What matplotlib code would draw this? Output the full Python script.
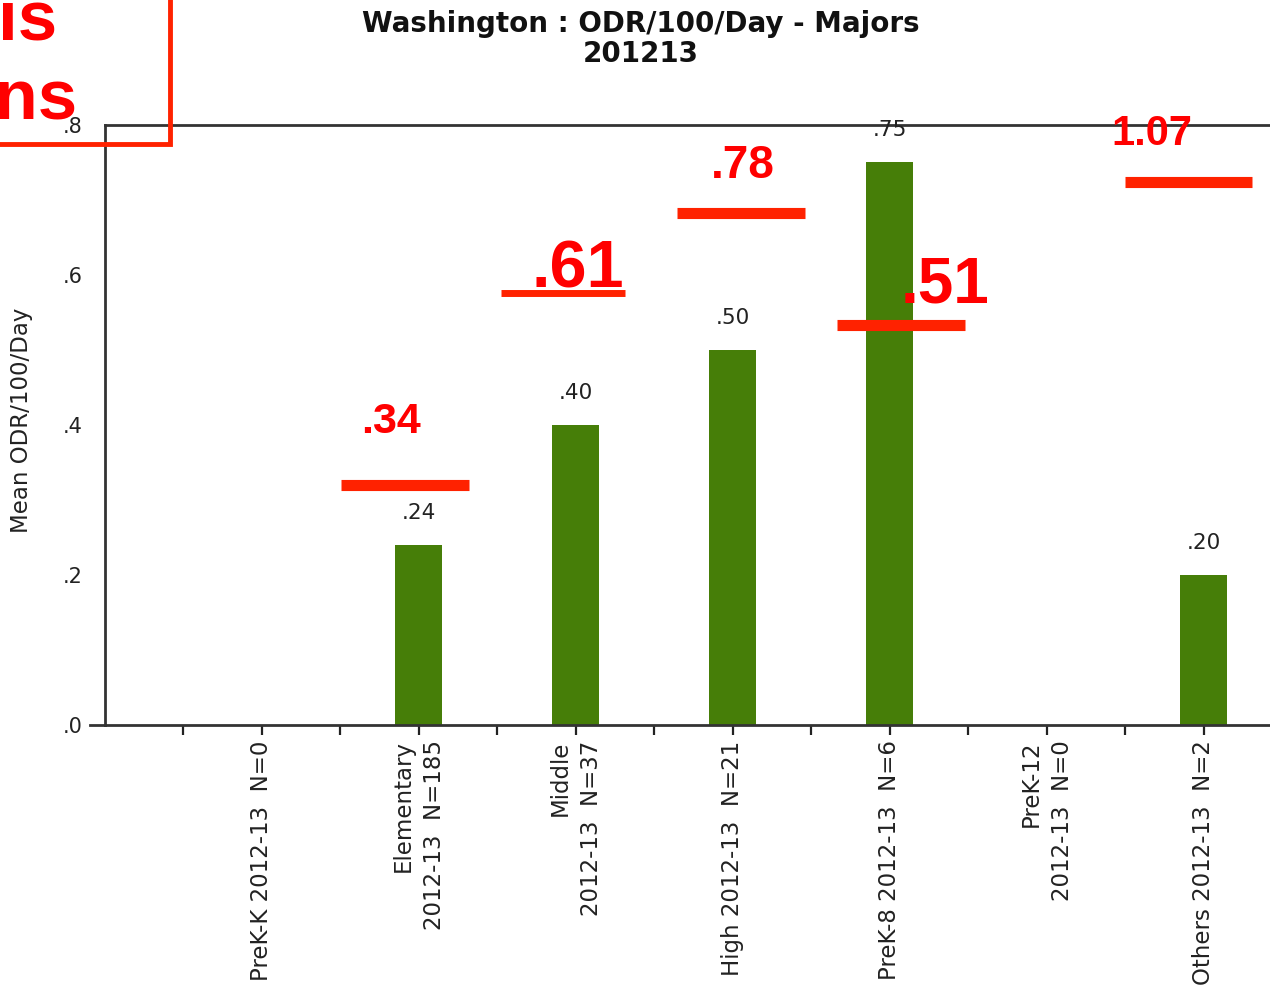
import matplotlib
matplotlib.use('Agg')
import matplotlib.pyplot as plt

# chart data
categories = ['PreK-K 2012-13  N=0', 'Elementary\n2012-13  N=185', 'Middle\n2012-13  N=37',
              'High 2012-13  N=21', 'PreK-8 2012-13  N=6', 'PreK-12\n2012-13  N=0',
              'Others 2012-13  N=2']
values = [0, 0.24, 0.40, 0.50, 0.75, 0, 0.20]
value_labels = ['', '.24', '.40', '.50', '.75', '', '.20']
ytick_vals = [0, 0.2, 0.4, 0.6, 0.8]
ytick_labels = ['.0', '.2', '.4', '.6', '.8']

# red hand-drawn comparison marks
red_cats = [1, 2, 3, 4, 6]
red_levels = [0.32, 0.576, 0.683, 0.533, 0.724]
red_texts = ['.34', '.61', '.78', '.51', '1.07']

bar_color = '#467e08'
red_line = '#ff2200'
red_text = '#ff0000'

fig = plt.figure(figsize=(12.7, 9.86), dpi=100)
ax = fig.add_axes([105 / 1270, 261 / 986, 1177 / 1270, 600 / 986])

x = list(range(len(categories)))
ax.bar(x, values, width=0.3, color=bar_color, zorder=2)
for xi, v, lab in zip(x, values, value_labels):
    if lab:
        ax.annotate(lab, (xi, v), xytext=(0, 16), textcoords='offset points',
                    ha='center', va='bottom', fontsize=15.5, color='#222222')

ax.set_xlim(-1, 6.5)
ax.set_ylim(0, 0.8)
ax.set_xticks(x)
ax.set_xticklabels(categories, rotation=90, ha='center', va='top',
                   multialignment='right', fontsize=16.5, color='#222222',
                   linespacing=1.45)
ax.set_xticks([i - 0.5 for i in range(len(categories) + 1)], minor=True)
ax.tick_params(axis='x', which='both', length=7, width=1.6, color='#222222', pad=4)
ax.set_yticks(ytick_vals)
ax.set_yticklabels(ytick_labels, fontsize=15, color='#222222')
ax.tick_params(axis='y', length=0, pad=16)
ax.set_ylabel('Mean ODR/100/Day', fontsize=16.5, color='#222222')
ax.yaxis.set_label_coords(-0.061, 0.508)

for s in ['left', 'top', 'bottom']:
    ax.spines[s].set_linewidth(2)
    ax.spines[s].set_color('#333333')
ax.spines['right'].set_visible(False)
ax.plot([-0.013, 0], [0, 0], transform=ax.transAxes, clip_on=False,
        color='#333333', lw=2)

fig.text(641 / 1270, 1 - 39 / 986, 'Washington : ODR/100/Day - Majors\n201213',
         ha='center', va='center', fontsize=20, fontweight='bold',
         linespacing=1.12, color='#111111')

# red overlay lines and numbers
line_start = [-0.497, -0.478, -0.357, -0.338, -0.503]
line_end = [0.318, 0.312, 0.459, 0.478, 0.312]
line_w = [8, 5, 8, 8, 8]
text_dx = [-0.178, 0.013, 0.064, 0.350, -0.331]
text_y = [0.389, 0.583, 0.729, 0.563, 0.773]
text_size = [31, 48, 33, 46, 30]
for c, lvl, s, e, w in zip(red_cats, red_levels, line_start, line_end, line_w):
    ax.plot([c + s, c + e], [lvl, lvl], color=red_line, lw=w,
            solid_capstyle='butt', clip_on=False, zorder=3)
for c, t, dx, ty, fs in zip(red_cats, red_texts, text_dx, text_y, text_size):
    ax.text(c + dx, ty, t, ha='center', va='baseline', fontsize=fs,
            fontweight='bold', color=red_text, family='Liberation Sans',
            zorder=4, clip_on=False)

# red box cropped at the top left corner
fig.patches.append(plt.Rectangle((-10 / 1270, 1 - 144 / 986), 180 / 1270, 160 / 986,
                                 transform=fig.transFigure, fill=False,
                                 edgecolor=red_line, lw=3.5, figure=fig))
fig.text(57 / 1270, 1 - 40 / 986, 'is', ha='right', va='baseline', fontsize=51,
         fontweight='bold', color=red_text, family='Liberation Sans')
fig.text(78 / 1270, 1 - 120 / 986, 'ans', ha='right', va='baseline', fontsize=51,
         fontweight='bold', color=red_text, family='Liberation Sans')

fig.savefig('out.png', dpi=100)
